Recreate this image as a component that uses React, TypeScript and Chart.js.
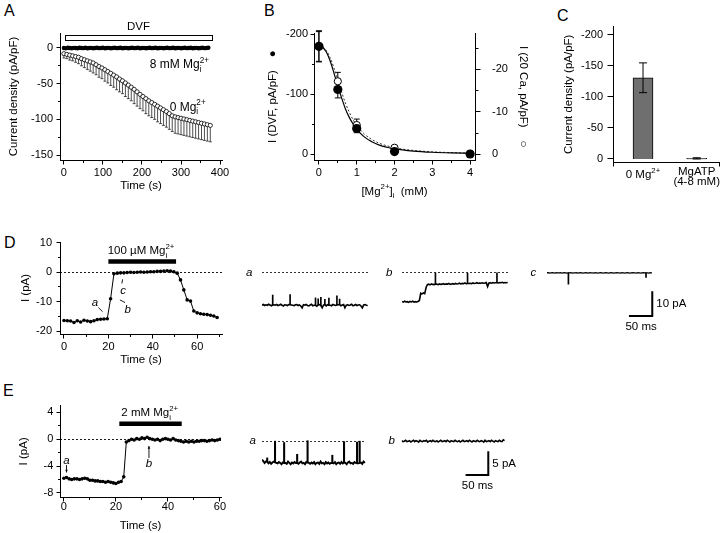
import React, { useEffect, useRef } from 'react';
import { Chart, registerables } from 'chart.js';

Chart.register(...registerables);
const FONT = '"Liberation Sans", Arial, Helvetica, sans-serif';
Chart.defaults.font.family = FONT;
Chart.defaults.font.size = 11;
Chart.defaults.color = '#000';
const TICK_SIZE = 11;
const TITLE_SIZE = 11.5;

// ---------------- DATA ----------------
// Panel A: current density vs time
const A_TIME_8MG = [0,5,10,15,20,25,30,35,40,45,50,55,60,65,70,75,80,85,90,95,100,105,110,115,120,125,130,135,140,145,150,155,160,165,170,175,180,185,190,195,200,205,210,215,220,225,230,235,240,245,250,255,260,265,270,275,280,285,290,295,300,305,310,315,320,325,330,335,340,345,350,355,360,365,370];
const A_CURRENT_8MG = [0,-0.5,0.3,0,-0.4,0.2,0,-0.3,0.4,0,-0.2,0.3,-0.4,0,0.2,-0.3,0,0.4,-0.2,0,0.3,-0.4,0,0.2,-0.3,0,0.4,-0.2,0,0.3,-0.4,0,0.2,-0.3,0,0.4,-0.2,0,0.3,-0.4,0,0.2,-0.3,0,0.4,-0.2,0,0.3,-0.4,0,0.2,-0.3,0,0.4,-0.2,0,0.3,-0.4,0,0.2,-0.3,0,0.4,-0.2,0,0.3,-0.4,0,0.2,-0.3,0,0.4,-0.2,0,0.3];
const A_TIME_0MG = [0,7.5,15,22.5,30,37.5,45,52.5,60,67.5,75,82.5,90,97.5,105,112.5,120,127.5,135,142.5,150,157.5,165,172.5,180,187.5,195,202.5,210,217.5,225,232.5,240,247.5,255,262.5,270,277.5,285,292.5,300,307.5,315,322.5,330,337.5,345,352.5,360,367.5,375];
const A_CURRENT_0MG = [-8,-9,-10,-11,-12,-13,-15,-16.5,-18,-19.5,-21,-23.5,-26,-28,-30.5,-33,-35.5,-38,-40.5,-43.5,-46,-49,-52,-55,-58,-61.5,-65,-68,-71,-74,-76.5,-79,-81.5,-84,-86.5,-89,-92,-95,-96.5,-97.5,-98.5,-99.5,-100.5,-101.5,-102.5,-103.5,-104.5,-105.5,-106.5,-107.5,-108.5];
const A_SEM_0MG = [6,6,7,7,8,9,10,11,12,13,14,14,15,15,16,16,17,17,18,18,18,19,19,19,20,20,20,20,21,21,21,21,22,22,22,22,22,22,23,23,23,23,23,23,23,23,23,23,23,23,23];
const A_X_TICKS = [0, 100, 200, 300, 400];
const A_Y_TICKS = [0, -50, -100, -150];

// Panel B: dose response
const B_MG_MM = [0, 0.5, 1, 2, 4];
const B_DVF = [-180, -108, -43, -4.5, -0.5];
const B_DVF_ERR = [26, 14, 7, 2, 1];
const B_CA20 = [-25.4, -17.2, -6.9, -1.55, -0.1];
const B_CA20_ERR = [3.5, 2.1, 1.4, 0.3, 0.1];
const B_FIT_MG = [0,0.1,0.2,0.3,0.4,0.5,0.6,0.7,0.8,0.9,1.0,1.2,1.4,1.6,1.8,2.0,2.5,3.0,3.5,4.0];
const B_FIT_DVF = [-180,-178,-170,-155,-135,-114,-94,-76,-62,-51,-42,-29,-21,-15.4,-11.8,-9.1,-5.4,-3.4,-2.3,-1.7];
const B_FIT_CA20 = [-25.4,-25.3,-24.4,-22.7,-20.3,-17.5,-14.7,-12.1,-10.0,-8.2,-6.8,-4.8,-3.5,-2.6,-2.0,-1.55,-0.92,-0.59,-0.40,-0.28];

// Panel C: bars
const C_CATEGORIES = ['0 Mg^{2+}', 'MgATP\n(4-8 mM)'];
const C_MEAN = [-131, -1];
const C_SEM = [24, 1];
const C_Y_TICKS = [-200, -150, -100, -50, 0];

// Panel D: time course + single-channel traces
const D_TIME = [0,1.5,3,4.5,6,7.5,9,10.5,12,13.5,15,16.5,18,19.5,21,22.5,24,25.5,27,28.5,30,31.5,33,34.5,36,37.5,39,40.5,42,43.5,45,46.5,48,49.5,51,52.5,54,55.5,57,58.5,60,61.5,63,64.5,66,67.5,69];
const D_CURRENT = [-16.4,-16.5,-16.6,-17.1,-16.5,-16.9,-16.3,-16.6,-16.8,-16.5,-16.1,-16.0,-15.9,-15.8,-9.0,-0.5,-0.3,-0.2,-0.2,-0.1,0.0,-0.1,0.0,0.1,0.0,0.1,0.2,0.2,0.3,0.3,0.4,0.5,0.4,0.2,-0.3,-2.6,-6.0,-9.4,-9.8,-13.2,-13.8,-14.1,-14.3,-14.4,-14.6,-14.9,-15.4];
const D_APPLIED = '100 µM Mg^{2+}_{i}';
const TRACE_TIME_MS = [0,3,6,9,12,15,18,21,24,27,30,33,36,39,42,45,48,51,54,57,60,63,66,69,72,75,78,81,84,87,90,93,96,99,102,105,108,111,114,117,120,123,126,129,132,135,138,141,144,147,150,153,156,159,162,165,168,171,174,177,180,183,186,189,192,195,198,201,204,207,210,213,216,219,222,225,228,231,234,237];
const D_TRACE_A = [-13.9,-13.6,-14.0,-13.7,-13.9,-13.5,-13.8,-14.1,-13.8,-13.7,-13.9,-13.6,-14.0,-13.8,-13.5,-13.9,-14.2,-13.7,-13.8,-14.0,-13.6,-13.7,-13.8,-13.9,-14.1,-13.7,-13.6,-14.0,-13.8,-14.2,-15.0,-13.7,-13.9,-13.6,-14.0,-14.2,-13.8,-13.5,-14.1,-13.9,-13.9,-14.3,-13.8,-13.6,-14.0,-15.0,-13.8,-13.7,-14.2,-13.7,-13.9,-13.9,-14.1,-13.6,-13.8,-14.0,-13.8,-13.7,-13.6,-14.1,-13.8,-13.6,-15.0,-13.9,-13.7,-14.0,-13.8,-13.5,-14.1,-13.9,-13.6,-14.0,-13.8,-13.7,-14.2,-15.0,-13.8,-13.6,-13.9,-14.0];
const D_SPIKE_A_MS = [24, 63, 120, 126, 132, 141, 150, 168, 174];
const D_SPIKE_A_PA = [-9.6, -9.4, -10.8, -11.2, -10.6, -11.4, -10.9, -9.9, -11.3];
const D_TRACE_B = [-12.3,-12.6,-12.2,-12.5,-12.4,-12.7,-12.3,-12.5,-12.2,-12.6,-12.4,-12.5,-12.3,-11.9,-8.8,-9.1,-8.7,-9.0,-6.4,-5.2,-5.0,-5.3,-4.9,-5.1,-5.2,-5.0,-5.0,-5.2,-4.9,-5.1,-5.0,-4.8,-5.1,-4.9,-5.0,-4.7,-5.1,-4.9,-4.8,-5.0,-4.7,-4.9,-4.8,-4.6,-4.9,-4.7,-4.8,-4.5,-4.8,-4.7,-4.7,-4.6,-4.8,-4.5,-4.7,-4.6,-4.4,-4.7,-4.5,-4.6,-4.4,-4.6,-4.5,-4.3,-6.0,-4.5,-4.4,-4.6,-4.3,-4.5,-4.4,-4.4,-4.5,-4.3,-4.4,-4.2,-4.5,-4.3,-4.4,-4.3];
const D_SPIKE_B_MS = [75, 147, 213];
const D_SPIKE_B_PA = [-0.3, -0.4, -0.2];
const D_TRACE_C = [-0.2,-0.1,-0.3,-0.2,-0.1,-0.2,-0.3,-0.1,-0.2,-0.2,-0.1,-0.3,-0.2,-0.1,-0.2,-0.3,-0.2,-0.2,-0.1,-0.3,-0.2,-0.2,-0.1,-0.3,-0.2,-0.1,-0.2,-0.3,-0.2,-0.1,-0.2,-0.3,-0.1,-0.2,-0.2,-0.3,-0.1,-0.2,-0.3,-0.2,-0.1,-0.2,-0.3,-0.2,-0.1,-0.2,-0.3,-0.2,-0.1,-0.2,-0.3,-0.2,-0.1,-0.2,-0.2,-0.3,-0.1,-0.2,-0.3,-0.2,-0.1,-0.2,-0.3,-0.2,-0.1,-0.2,-0.2,-0.3,-0.1,-0.2,-0.3,-0.2,-0.1,-0.2,-0.2,-0.2,-0.3,-0.1,-0.2,-0.2];
const D_SPIKE_C_MS = [48, 222];
const D_SPIKE_C_PA = [-5.0, -2.2];

// Panel E
const E_TIME = [0,1,2,3,4,5,6,7,8,9,10,11,12,13,14,15,16,17,18,19,20,21,22,23,24,25,26,27,28,29,30,31,32,33,34,35,36,37,38,39,40,41,42,43,44,45,46,47,48,49,50,51,52,53,54,55,56,57,58,59,60];
const E_CURRENT = [-5.8,-5.7,-5.9,-6.0,-5.9,-5.9,-6.0,-5.9,-5.8,-5.9,-6.1,-6.1,-6.2,-6.2,-6.3,-6.3,-6.4,-6.3,-6.4,-6.5,-6.6,-6.4,-6.3,-5.6,-0.4,-0.2,0.0,-0.1,0.1,0.0,0.2,0.1,0.3,0.1,0.0,-0.1,0.0,-0.2,0.0,0.1,0.0,-0.1,0.1,-0.1,-0.2,-0.3,-0.4,-0.3,-0.4,-0.3,-0.4,-0.3,-0.3,-0.2,-0.2,-0.3,-0.2,-0.1,-0.2,-0.1,0.0];
const E_APPLIED = '2 mM Mg^{2+}_{i}';
const E_TRACE_A = [-4.2,-4.5,-4.9,-4.6,-4.6,-5.0,-4.7,-5.1,-4.8,-4.6,-4.8,-4.9,-5.0,-4.7,-4.9,-5.2,-4.8,-4.9,-4.9,-5.1,-4.6,-4.9,-5.2,-4.8,-5.0,-4.7,-4.9,-4.9,-5.1,-4.8,-4.6,-5.0,-4.9,-5.2,-4.7,-4.8,-4.9,-5.1,-4.8,-5.0,-4.7,-5.2,-4.9,-4.8,-5.1,-4.6,-5.0,-4.9,-5.2,-4.7,-5.0,-4.8,-5.1,-4.9,-4.9,-5.0,-4.7,-5.2,-4.9,-4.8,-5.1,-4.7,-5.0,-4.8,-4.9,-5.2,-4.8,-4.6,-5.0,-4.9,-5.1,-4.7,-4.9,-5.0,-5.0,-4.9,-4.8,-5.1,-4.6,-4.9];
const E_SPIKE_A_MS = [12, 30, 51, 81, 105, 162, 189, 219, 225];
const E_SPIKE_A_PA = [-3.8, -0.1, -0.4, -3.0, 0.0, -3.2, -0.2, -0.3, -0.1];
const E_TRACE_B = [0.0,-0.2,-0.1,0.1,-0.2,-0.1,0.0,-0.3,-0.1,0.1,-0.2,0.0,-0.1,-0.3,0.1,-0.1,-0.2,0.0,-0.1,0.1,-0.3,-0.1,0.0,-0.2,0.1,-0.1,-0.2,0.0,-0.3,-0.1,0.1,-0.2,-0.1,0.0,-0.2,0.1,-0.1,-0.3,0.0,-0.1,-0.2,0.1,-0.1,-0.2,0.0,-0.3,-0.1,0.1,-0.2,-0.1,0.0,-0.2,0.1,-0.1,-0.3,0.0,-0.1,-0.2,0.1,-0.1,-0.2,0.0,-0.1,-0.3,0.1,-0.2,-0.1,0.0,-0.2,0.1,-0.1,-0.3,0.0,-0.1,-0.2,0.1,-0.1,-0.2,0.2,0.0];

// ---------------- HELPERS ----------------
type Seg = { t: string; k?: 'sup' | 'sub' };
function parseRich(s: string): Seg[] {
  const segs: Seg[] = [];
  const re = /(\^\{[^}]*\}|_\{[^}]*\})/g;
  let last = 0;
  let m: RegExpExecArray | null;
  while ((m = re.exec(s))) {
    if (m.index > last) segs.push({ t: s.slice(last, m.index) });
    segs.push({ t: m[0].slice(2, -1), k: m[0][0] === '^' ? 'sup' : 'sub' });
    last = re.lastIndex;
  }
  if (last < s.length) segs.push({ t: s.slice(last) });
  return segs;
}
function drawRich(ctx: CanvasRenderingContext2D, text: string, x: number, y: number, size: number, align: 'left' | 'center' | 'right' = 'center', style = '') {
  const segs = parseRich(text);
  const small = size * 0.68;
  const items: { t: string; fs: number; dx: number; dy: number }[] = [];
  let w = 0;
  for (let i = 0; i < segs.length; i++) {
    const s = segs[i];
    const fs = s.k ? small : size;
    ctx.font = `${style} ${fs}px ${FONT}`;
    const sw = ctx.measureText(s.t).width;
    const dy = s.k === 'sup' ? -size * 0.38 : s.k === 'sub' ? size * 0.34 : 0;
    items.push({ t: s.t, fs, dx: w, dy });
    const next = segs[i + 1];
    if (s.k === 'sup' && next && next.k === 'sub') {
      ctx.font = `${style} ${small}px ${FONT}`;
      const nw = ctx.measureText(next.t).width;
      items.push({ t: next.t, fs: small, dx: w, dy: size * 0.42 });
      w += Math.max(sw, nw);
      i++;
    } else w += sw;
  }
  const x0 = align === 'center' ? x - w / 2 : align === 'right' ? x - w : x;
  ctx.textBaseline = 'middle';
  ctx.textAlign = 'left';
  ctx.fillStyle = '#000';
  for (const it of items) {
    ctx.font = `${style} ${it.fs}px ${FONT}`;
    ctx.fillText(it.t, x0 + it.dx, y + it.dy);
  }
}
function P(chart: any, x: number, y: number, xs = 'x', ys = 'y'): [number, number] {
  return [chart.scales[xs].getPixelForValue(x), chart.scales[ys].getPixelForValue(y)];
}
function line(ctx: CanvasRenderingContext2D, a: [number, number], b: [number, number]) {
  ctx.beginPath();
  ctx.moveTo(a[0], a[1]);
  ctx.lineTo(b[0], b[1]);
  ctx.stroke();
}
function arrow(ctx: CanvasRenderingContext2D, a: [number, number], b: [number, number], head = 3.5) {
  line(ctx, a, b);
  const ang = Math.atan2(b[1] - a[1], b[0] - a[0]);
  ctx.beginPath();
  ctx.moveTo(b[0], b[1]);
  ctx.lineTo(b[0] - head * Math.cos(ang - 0.45), b[1] - head * Math.sin(ang - 0.45));
  ctx.lineTo(b[0] - head * Math.cos(ang + 0.45), b[1] - head * Math.sin(ang + 0.45));
  ctx.closePath();
  ctx.fill();
}

function axis(o: {
  position: 'left' | 'right' | 'bottom';
  min: number; max: number; reverse?: boolean; size: number;
  labels?: number[]; gap?: number; title?: string; titleOff?: number;
}) {
  const horiz = o.position === 'bottom';
  const tickPad = horiz ? (o.gap ?? 12) - TICK_SIZE * 0.6 : (o.gap ?? 6);
  const titlePad = o.titleOff !== undefined ? o.titleOff - TITLE_SIZE * 0.6 : 0;
  return {
    type: 'linear',
    position: o.position,
    min: o.min, max: o.max, reverse: !!o.reverse, offset: false,
    grid: { display: false, drawTicks: false, offset: false },
    border: { display: true, color: '#000', width: 1 },
    ticks: { display: !!o.labels, padding: tickPad, color: '#000', font: { size: TICK_SIZE, family: FONT }, autoSkip: false, maxRotation: 0, minRotation: 0 },
    title: o.title
      ? { display: true, text: o.title, color: '#000', font: { size: TITLE_SIZE, family: FONT }, padding: horiz ? { top: 0, bottom: titlePad } : { top: titlePad, bottom: 0 } }
      : { display: false },
    afterBuildTicks: (s: any) => { if (o.labels) s.ticks = o.labels.map((v) => ({ value: v })); },
    afterFit: (s: any) => {
      if (horiz) s.height = o.size; else s.width = o.size;
      s.paddingLeft = 0; s.paddingRight = 0; s.paddingTop = 0; s.paddingBottom = 0;
    },
  };
}
function base(padding: any) {
  return {
    responsive: false, animation: false, devicePixelRatio: 1, events: [],
    layout: { padding },
    plugins: { legend: { display: false }, tooltip: { enabled: false } },
  };
}
type TickSpec = { axis: string; values: number[]; len: number };
function tickMarks(specs: TickSpec[]) {
  return {
    id: 'tickMarks',
    afterDraw(chart: any) {
      const ctx = chart.ctx as CanvasRenderingContext2D;
      ctx.save();
      ctx.strokeStyle = '#000';
      ctx.lineWidth = 1;
      for (const sp of specs) {
        const s = chart.scales[sp.axis];
        for (const v of sp.values) {
          const p = Math.round(s.getPixelForValue(v) - 0.5) + 0.5;
          ctx.beginPath();
          if (s.position === 'left') { const e = Math.round(s.right - 0.5) + 0.5; ctx.moveTo(e + 0.5, p); ctx.lineTo(e - sp.len, p); }
          else if (s.position === 'right') { const e = Math.round(s.left - 0.5) + 0.5; ctx.moveTo(e - 0.5, p); ctx.lineTo(e + sp.len, p); }
          else { const e = Math.round(s.top - 0.5) + 0.5; ctx.moveTo(p, e - 0.5); ctx.lineTo(p, e + sp.len); }
          ctx.stroke();
        }
      }
      ctx.restore();
    },
  };
}
type ErrSpec = { ds: number; minus: number[]; plus: number[]; cap: number; color?: string; width?: number; front?: boolean };
function errorBars(specs: ErrSpec[]) {
  const draw = (chart: any, front: boolean) => {
    const ctx = chart.ctx as CanvasRenderingContext2D;
    ctx.save();
    for (const sp of specs) {
      if (!!sp.front !== front) continue;
      const meta = chart.getDatasetMeta(sp.ds);
      const xs = chart.scales[meta.xAxisID];
      const ys = chart.scales[meta.yAxisID];
      ctx.strokeStyle = sp.color || '#000';
      ctx.lineWidth = sp.width || 1;
      chart.data.datasets[sp.ds].data.forEach((d: any, i: number) => {
        const x = xs.getPixelForValue(d.x);
        const yLo = ys.getPixelForValue(d.y - sp.minus[i]);
        const yHi = ys.getPixelForValue(d.y + sp.plus[i]);
        ctx.beginPath();
        ctx.moveTo(x, yLo); ctx.lineTo(x, yHi);
        if (sp.minus[i] > 0) { ctx.moveTo(x - sp.cap, yLo); ctx.lineTo(x + sp.cap, yLo); }
        if (sp.plus[i] > 0) { ctx.moveTo(x - sp.cap, yHi); ctx.lineTo(x + sp.cap, yHi); }
        ctx.stroke();
      });
    }
    ctx.restore();
  };
  return {
    id: 'errorBars',
    beforeDatasetsDraw(chart: any) { draw(chart, false); },
    afterDatasetsDraw(chart: any) { draw(chart, true); },
  };
}
function dashedZero(chart: any, width = 0.9) {
  const ctx = chart.ctx as CanvasRenderingContext2D;
  const y = Math.round(chart.scales.y.getPixelForValue(0)) + 0.5;
  ctx.save();
  ctx.strokeStyle = '#000';
  ctx.lineWidth = width;
  ctx.setLineDash([2, 2]);
  ctx.beginPath();
  ctx.moveTo(chart.chartArea.left, y);
  ctx.lineTo(chart.chartArea.right, y);
  ctx.stroke();
  ctx.restore();
}
const pts = (xs: number[], ys: number[]) => xs.map((x, i) => ({ x, y: ys[i] }));

// ---------------- PANELS ----------------
function makeA() {
  return {
    type: 'scatter',
    data: {
      datasets: [
        { data: pts(A_TIME_0MG, A_CURRENT_0MG), pointRadius: 2.1, pointBackgroundColor: '#fff', pointBorderColor: '#000', pointBorderWidth: 0.8, showLine: false, order: 0 },
        { data: pts(A_TIME_8MG, A_CURRENT_8MG), pointRadius: 2.2, pointBackgroundColor: '#000', pointBorderColor: '#000', pointBorderWidth: 0, showLine: false, order: 1 },
      ],
    },
    options: {
      ...base({ left: 0, right: 18, top: 13, bottom: 0 }),
      scales: {
        x: axis({ position: 'bottom', min: -10, max: 405, size: 40, labels: A_X_TICKS, gap: 13, title: 'Time (s)', titleOff: 14 }),
        y: axis({ position: 'left', min: -157, max: 21, size: 60, labels: A_Y_TICKS, gap: 7, title: 'Current density (pA/pF)', titleOff: 14 }),
      },
    },
    plugins: [
      tickMarks([
        { axis: 'x', values: A_X_TICKS, len: 4 },
        { axis: 'x', values: [50, 150, 250, 350], len: 2.5 },
        { axis: 'y', values: A_Y_TICKS, len: 4 },
        { axis: 'y', values: [-25, -75, -125], len: 2.5 },
      ]),
      errorBars([{ ds: 0, minus: A_SEM_0MG, plus: A_SEM_0MG.map(() => 0), cap: 1.5, color: '#222', width: 0.8 }]),
      {
        id: 'annA',
        afterDraw(chart: any) {
          const ctx = chart.ctx as CanvasRenderingContext2D;
          ctx.save();
          const a = P(chart, 2.5, 18.7);
          const b = P(chart, 380, 11.7);
          ctx.fillStyle = '#fff';
          ctx.strokeStyle = '#000';
          ctx.lineWidth = 1;
          ctx.fillRect(a[0], a[1], b[0] - a[0], b[1] - a[1]);
          ctx.strokeRect(Math.round(a[0]) + 0.5, Math.round(a[1]) + 0.5, Math.round(b[0] - a[0]), Math.round(b[1] - a[1]));
          drawRich(ctx, 'DVF', (a[0] + b[0]) / 2, a[1] - 7.5, 11.5);
          const m = P(chart, 220, -24);
          drawRich(ctx, '8 mM Mg^{2+}_{i}', m[0], m[1], 12, 'left');
          const o = P(chart, 271, -83);
          drawRich(ctx, '0 Mg^{2+}_{i}', o[0], o[1], 12, 'left');
          ctx.restore();
        },
      },
    ],
  };
}

function makeB() {
  return {
    type: 'scatter',
    data: {
      datasets: [
        { data: pts(B_MG_MM, B_DVF), yAxisID: 'y', pointRadius: 4.6, pointBackgroundColor: '#000', pointBorderColor: '#000', pointBorderWidth: 0, showLine: false, order: 0 },
        { data: pts(B_MG_MM, B_CA20), yAxisID: 'y2', pointRadius: 3.6, pointBackgroundColor: '#fff', pointBorderColor: '#000', pointBorderWidth: 1, showLine: false, order: 1 },
        { data: pts(B_FIT_MG, B_FIT_DVF), yAxisID: 'y', pointRadius: 0, showLine: true, borderColor: '#000', borderWidth: 1.2, cubicInterpolationMode: 'monotone', order: 2 },
        { data: pts(B_FIT_MG, B_FIT_CA20), yAxisID: 'y2', pointRadius: 0, showLine: true, borderColor: '#333', borderWidth: 1, borderDash: [2, 2], cubicInterpolationMode: 'monotone', order: 3 },
      ],
    },
    options: {
      ...base({ left: 0, right: 0, top: 13.3, bottom: 0 }),
      scales: {
        x: axis({ position: 'bottom', min: -0.13, max: 4.13, size: 40, labels: [0, 1, 2, 3, 4], gap: 13 }),
        y: axis({ position: 'left', min: -201.7, max: 9.5, reverse: true, size: 84, labels: [-200, -100, 0], gap: 6, title: 'I (DVF, pA/pF)    ●', titleOff: 43 }),
        y2: axis({ position: 'right', min: -28.5, max: 1.34, reverse: true, size: 65, labels: [-20, -10, 0], gap: 17, title: 'I (20 Ca, pA/pF)    ○', titleOff: 17 }),
      },
    },
    plugins: [
      tickMarks([
        { axis: 'x', values: [0, 1, 2, 3, 4], len: 4 },
        { axis: 'x', values: [0.5, 1.5, 2.5, 3.5], len: 2.5 },
        { axis: 'y', values: [-200, -100, 0], len: 4 },
        { axis: 'y', values: [-150, -50], len: 2.5 },
        { axis: 'y2', values: [-20, -10, 0], len: 5 },
        { axis: 'y2', values: [-25, -15, -5], len: 3 },
      ]),
      errorBars([
        { ds: 0, minus: B_DVF_ERR, plus: B_DVF_ERR, cap: 3 },
        { ds: 1, minus: B_CA20_ERR, plus: B_CA20_ERR, cap: 3 },
      ]),
      {
        id: 'annB',
        afterDraw(chart: any) {
          const ctx = chart.ctx as CanvasRenderingContext2D;
          const ca = chart.chartArea;
          ctx.save();
          drawRich(ctx, '[Mg^{2+}]_{i}  (mM)', (ca.left + ca.right) / 2, 171.7, 11.5);
          ctx.restore();
        },
      },
    ],
  };
}

const C_X_MIN = 0.441;
const C_X_MAX = 2.415;
function makeC() {
  return {
    type: 'bar',
    data: {
      datasets: [
        { data: pts([1, 2], C_MEAN), backgroundColor: '#6f6f6f', borderColor: '#000', borderWidth: 1, barThickness: 20 },
      ],
    },
    options: {
      ...base({ left: 0, right: 1, top: 6, bottom: 0 }),
      scales: {
        x: axis({ position: 'bottom', min: C_X_MIN, max: C_X_MAX, size: 37.3 }),
        y: axis({ position: 'left', min: -214.5, max: 6, reverse: true, size: 73, labels: C_Y_TICKS, gap: 10, title: 'Current density (pA/pF)', titleOff: 29 }),
      },
    },
    plugins: [
      tickMarks([
        { axis: 'y', values: C_Y_TICKS, len: 6 },
        { axis: 'x', values: [C_X_MIN, C_X_MAX], len: 4 },
      ]),
      errorBars([{ ds: 0, minus: C_SEM, plus: C_SEM, cap: 4, front: true }]),
      {
        id: 'annC',
        afterDraw(chart: any) {
          const ctx = chart.ctx as CanvasRenderingContext2D;
          ctx.save();
          C_CATEGORIES.forEach((label, i) => {
            const x = chart.scales.x.getPixelForValue(i + 1);
            const lines = label.split('\n');
            const y0 = lines.length === 1 ? 155 : 151.7;
            lines.forEach((ln, j) => drawRich(ctx, ln, x, y0 + j * 10.5, 11.5));
          });
          ctx.restore();
        },
      },
    ],
  };
}

function makeTimeCourse(o: {
  t: number[]; v: number[]; padTop: number; padRight: number; xMin: number; xMax: number; yMin: number; yMax: number;
  xSize: number; xLabels: number[]; xMinor: number[]; yLabels: number[]; yMinor: number[];
  xGap: number; xTitleOff: number; yGap: number; yTitleOff: number; ann: (chart: any, ctx: CanvasRenderingContext2D) => void;
}) {
  return {
    type: 'scatter',
    data: {
      datasets: [
        { data: pts(o.t, o.v), showLine: true, borderColor: '#000', borderWidth: 1, pointRadius: 1.8, pointBackgroundColor: '#000', pointBorderWidth: 0 },
      ],
    },
    options: {
      ...base({ left: 0, right: o.padRight, top: o.padTop, bottom: 0 }),
      scales: {
        x: axis({ position: 'bottom', min: o.xMin, max: o.xMax, size: o.xSize, labels: o.xLabels, gap: o.xGap, title: 'Time (s)', titleOff: o.xTitleOff }),
        y: axis({ position: 'left', min: o.yMin, max: o.yMax, size: 60, labels: o.yLabels, gap: o.yGap, title: 'I (pA)', titleOff: o.yTitleOff }),
      },
    },
    plugins: [
      tickMarks([
        { axis: 'x', values: o.xLabels, len: 4 },
        { axis: 'x', values: o.xMinor, len: 2.5 },
        { axis: 'y', values: o.yLabels, len: 4 },
        { axis: 'y', values: o.yMinor, len: 2.5 },
      ]),
      {
        id: 'annTC',
        beforeDatasetsDraw(chart: any) { dashedZero(chart); },
        afterDraw(chart: any) {
          const ctx = chart.ctx as CanvasRenderingContext2D;
          ctx.save();
          ctx.strokeStyle = '#000';
          ctx.fillStyle = '#000';
          o.ann(chart, ctx);
          ctx.restore();
        },
      },
    ],
  };
}

function makeD() {
  return makeTimeCourse({
    t: D_TIME, v: D_CURRENT, padTop: 10, padRight: 18, xMin: -1.8, xMax: 71.2, yMin: -21, yMax: 10.3,
    xSize: 36, xLabels: [0, 20, 40, 60], xMinor: [10, 30, 50, 70], yLabels: [10, 0, -10, -20], yMinor: [5, -5, -15],
    xGap: 13, xTitleOff: 10, yGap: 8, yTitleOff: 26,
    ann: (chart, ctx) => {
      ctx.lineWidth = 4.5;
      line(ctx, P(chart, 20, 3.7), P(chart, 50.5, 3.7));
      const tp = P(chart, 34.7, 7.3);
      drawRich(ctx, D_APPLIED, tp[0], tp[1], 11.5);
      ctx.lineWidth = 0.9;
      const a = P(chart, 14, -10.3); drawRich(ctx, 'a', a[0], a[1], 11.5, 'center', 'italic');
      line(ctx, P(chart, 15.5, -12.0), P(chart, 17.4, -13.4));
      const b = P(chart, 28.7, -12.8); drawRich(ctx, 'b', b[0], b[1], 11.5, 'center', 'italic');
      line(ctx, P(chart, 27.5, -10.3), P(chart, 25.2, -9.4));
      const c = P(chart, 26.7, -6.3); drawRich(ctx, 'c', c[0], c[1], 11.5, 'center', 'italic');
      line(ctx, P(chart, 26.4, -2.4), P(chart, 26.1, -3.8));
    },
  });
}

function makeE() {
  return makeTimeCourse({
    t: E_TIME, v: E_CURRENT, padTop: 10.7, padRight: 19, xMin: -1.5, xMax: 60.4, yMin: -8.6, yMax: 5.0,
    xSize: 36, xLabels: [0, 20, 40, 60], xMinor: [10, 30, 50], yLabels: [4, 0, -4, -8], yMinor: [2, -2, -6],
    xGap: 10, xTitleOff: 7, yGap: 6.7, yTitleOff: 24,
    ann: (chart, ctx) => {
      ctx.lineWidth = 4.5;
      line(ctx, P(chart, 21.3, 2.3), P(chart, 45.3, 2.3));
      const tp = P(chart, 33, 3.9);
      drawRich(ctx, E_APPLIED, tp[0], tp[1], 11.5);
      ctx.lineWidth = 0.9;
      const a = P(chart, 1.0, -3.24); drawRich(ctx, 'a', a[0], a[1], 11.5, 'center', 'italic');
      arrow(ctx, P(chart, 1.0, -3.84), P(chart, 1.0, -4.95), 3);
      const b = P(chart, 32.7, -3.58); drawRich(ctx, 'b', b[0], b[1], 11.5, 'center', 'italic');
      arrow(ctx, P(chart, 32.7, -2.79), P(chart, 32.7, -1.0), 3);
    },
  });
}

function makeTrace(o: {
  v: number[]; spikeT: number[]; spikeV: number[]; pad: { left: number; right: number; top: number; bottom: number };
  xMax: number; yMin: number; yMax: number; label: string; labelDx: number; dashed: boolean; width: number; spikeWidth: number;
  bar?: { tEnd: number; vBottom: number; dt: number; dv: number; vText: string; tText: string };
}) {
  const spikes = o.spikeT.map((t, i) => {
    const j = TRACE_TIME_MS.indexOf(t);
    return { x: t, y: [o.v[j], o.spikeV[i]] };
  });
  return {
    type: 'scatter',
    data: {
      datasets: [
        { type: 'scatter', data: pts(TRACE_TIME_MS, o.v), showLine: true, pointRadius: 0, borderColor: '#000', borderWidth: o.width },
        { type: 'bar', data: spikes, backgroundColor: '#000', borderWidth: 0, barThickness: o.spikeWidth, grouped: false },
      ],
    },
    options: {
      ...base(o.pad),
      scales: {
        x: { type: 'linear', display: false, min: 0, max: o.xMax, offset: false },
        y: { type: 'linear', display: false, min: o.yMin, max: o.yMax },
      },
    },
    plugins: [
      {
        id: 'traceAnn',
        beforeDatasetsDraw(chart: any) { if (o.dashed) dashedZero(chart, 0.8); },
        afterDraw(chart: any) {
          const ctx = chart.ctx as CanvasRenderingContext2D;
          ctx.save();
          const y0 = chart.scales.y.getPixelForValue(0);
          drawRich(ctx, o.label, chart.chartArea.left - o.labelDx, y0, 11.5, 'center', 'italic');
          if (o.bar) {
            const br = o.bar;
            const c = P(chart, br.tEnd, br.vBottom);
            const l = P(chart, br.tEnd - br.dt, br.vBottom);
            const t = P(chart, br.tEnd, br.vBottom + br.dv);
            ctx.strokeStyle = '#000';
            ctx.lineWidth = 2;
            ctx.lineCap = 'square';
            ctx.beginPath();
            ctx.moveTo(l[0], l[1]);
            ctx.lineTo(c[0], c[1]);
            ctx.lineTo(t[0], t[1]);
            ctx.stroke();
            drawRich(ctx, br.vText, c[0] + 4, (c[1] + t[1]) / 2, 11.5, 'left');
            drawRich(ctx, br.tText, (l[0] + c[0]) / 2, c[1] + 10.5, 11.5);
          }
          ctx.restore();
        },
      },
    ],
  };
}

function ChartCanvas({ box, make }: { box: number[]; make: () => any }) {
  const ref = useRef<HTMLCanvasElement | null>(null);
  useEffect(() => {
    const chart = new Chart(ref.current as HTMLCanvasElement, make());
    return () => chart.destroy();
  }, []);
  const [x, y, w, h] = box;
  return (
    <canvas ref={ref} width={w} height={h}
      style={{ position: 'absolute', left: x, top: y, width: w, height: h }} />
  );
}

const LETTERS: [string, number, number][] = [['A', 4, 5], ['B', 264, 5], ['C', 557, 10], ['D', 4, 237], ['E', 3, 385]];

export default function App() {
  useEffect(() => { document.body.style.margin = '0'; }, []);
  return (
    <div style={{ position: 'absolute', left: 0, top: 0, width: 720, height: 533, background: '#fff', overflow: 'hidden', fontFamily: FONT }}>
      {LETTERS.map(([t, x, y]) => (
        <div key={t} style={{ position: 'absolute', left: x, top: y - 2, fontSize: 16, lineHeight: '16px', color: '#000' }}>{t}</div>
      ))}
      <ChartCanvas box={[0, 20, 240, 180]} make={makeA} />
      <ChartCanvas box={[230, 20, 310, 180]} make={makeB} />
      <ChartCanvas box={[540, 20, 180, 180]} make={makeC} />
      <ChartCanvas box={[0, 232, 240, 138]} make={makeD} />
      <ChartCanvas box={[240, 262, 135, 60]} make={() => makeTrace({ v: D_TRACE_A, spikeT: D_SPIKE_A_MS, spikeV: D_SPIKE_A_PA, pad: { left: 22, right: 7, top: 0, bottom: 0 }, xMax: 237.7, yMin: -20.97, yMax: 4.35, label: 'a', labelDx: 12.7, dashed: true, width: 1.6, spikeWidth: 1 })} />
      <ChartCanvas box={[380, 262, 135, 60]} make={() => makeTrace({ v: D_TRACE_B, spikeT: D_SPIKE_B_MS, spikeV: D_SPIKE_B_PA, pad: { left: 22, right: 6, top: 0, bottom: 0 }, xMax: 240, yMin: -20.97, yMax: 4.35, label: 'b', labelDx: 12.7, dashed: true, width: 1.6, spikeWidth: 1 })} />
      <ChartCanvas box={[520, 262, 200, 70]} make={() => makeTrace({ v: D_TRACE_C, spikeT: D_SPIKE_C_MS, spikeV: D_SPIKE_C_PA, pad: { left: 27, right: 68, top: 0, bottom: 10 }, xMax: 235.4, yMin: -20.97, yMax: 4.35, label: 'c', labelDx: 13.7, dashed: false, width: 1.3, spikeWidth: 1, bar: { tEnd: 236, vBottom: -18.44, dt: 50, dv: 10, vText: '10 pA', tText: '50 ms' } })} />
      <ChartCanvas box={[0, 395, 240, 138]} make={makeE} />
      <ChartCanvas box={[240, 430, 135, 45]} make={() => makeTrace({ v: E_TRACE_A, spikeT: E_SPIKE_A_MS, spikeV: E_SPIKE_A_PA, pad: { left: 22, right: 9, top: 0, bottom: 0 }, xMax: 239.6, yMin: -7.56, yMax: 2.36, label: 'a', labelDx: 9.3, dashed: true, width: 1.9, spikeWidth: 1.4 })} />
      <ChartCanvas box={[380, 430, 200, 65]} make={() => makeTrace({ v: E_TRACE_B, spikeT: [], spikeV: [], pad: { left: 21.7, right: 75, top: 0, bottom: 20 }, xMax: 238, yMin: -7.56, yMax: 2.36, label: 'b', labelDx: 10, dashed: false, width: 1.6, spikeWidth: 1, bar: { tEnd: 199.5, vBottom: -7.56, dt: 50, dv: 5, vText: '5 pA', tText: '50 ms' } })} />
    </div>
  );
}
